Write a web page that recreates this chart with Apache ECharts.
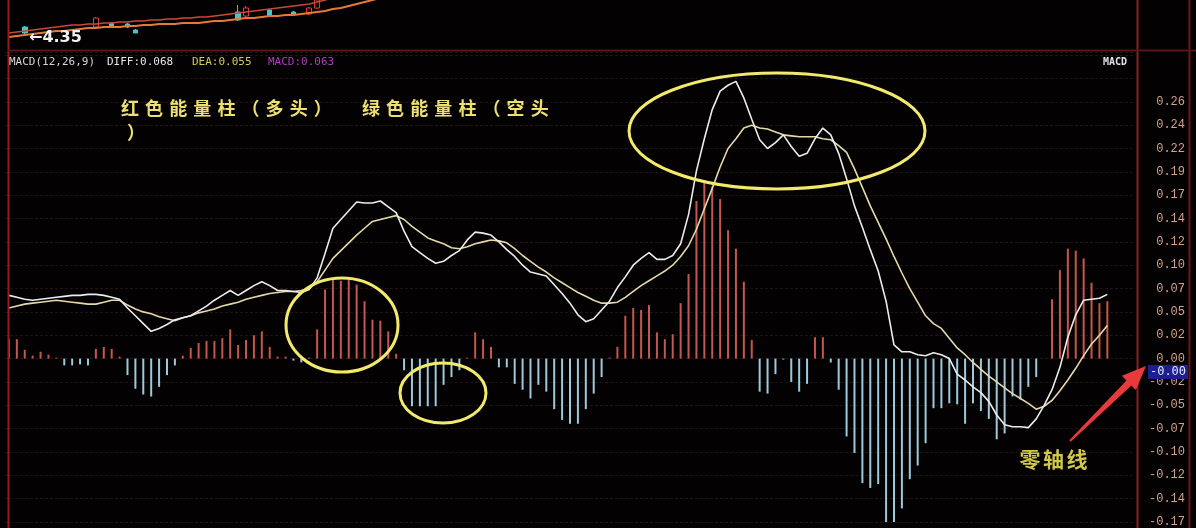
<!DOCTYPE html>
<html><head><meta charset="utf-8">
<script src="https://cdn.jsdelivr.net/npm/echarts@6/dist/echarts.min.js"></script>
<style>html,body{margin:0;padding:0;background:#040102;}#c{width:1196px;height:528px;}</style>
</head><body><div id="c"></div>
<script>
// ---------- data ----------
const macdBars = [
0.020,0.020,0.009,0.003,0.007,0.004,0.001,-0.007,-0.007,-0.006,
-0.007,0.010,0.012,0.010,0.002,-0.017,-0.031,-0.037,-0.039,-0.029,
-0.017,-0.007,0.003,0.011,0.016,0.018,0.018,0.021,0.030,0.014,
0.019,0.024,0.028,0.012,0.002,0.002,-0.002,-0.004,0.001,0.030,
0.071,0.081,0.080,0.081,0.076,0.059,0.040,0.039,0.028,0.005,
-0.012,-0.049,-0.049,-0.049,-0.049,-0.027,-0.019,-0.012,0.001,0.027,
0.020,0.012,-0.009,-0.009,-0.026,-0.032,-0.041,-0.027,-0.034,-0.052,
-0.063,-0.067,-0.067,-0.052,-0.036,-0.019,0.001,0.012,0.044,0.052,
0.050,0.055,0.027,0.020,0.025,0.057,0.087,0.162,0.182,0.177,
0.164,0.132,0.113,0.079,0.019,-0.034,-0.036,-0.016,-0.001,-0.024,
-0.034,-0.026,0.022,0.022,-0.004,-0.032,-0.080,-0.097,-0.128,-0.133,
-0.129,-0.172,-0.172,-0.154,-0.124,-0.110,-0.087,-0.051,-0.051,-0.046,
-0.047,-0.067,-0.046,-0.054,-0.062,-0.083,-0.077,-0.039,-0.042,-0.029,
-0.019,0.000,0.061,0.091,0.113,0.111,0.103,0.078,0.057,0.059];

const diffLine = [
0.065,0.063,0.061,0.060,0.061,0.062,0.063,0.064,0.065,0.065,
0.066,0.066,0.065,0.063,0.061,0.052,0.044,0.036,0.028,0.031,
0.035,0.040,0.042,0.044,0.049,0.054,0.060,0.065,0.070,0.065,
0.070,0.075,0.079,0.075,0.070,0.070,0.069,0.068,0.071,0.083,
0.108,0.134,0.143,0.152,0.161,0.160,0.160,0.162,0.156,0.150,
0.131,0.115,0.109,0.103,0.098,0.100,0.106,0.111,0.122,0.130,
0.129,0.127,0.120,0.112,0.105,0.096,0.089,0.087,0.085,0.076,
0.067,0.057,0.045,0.038,0.041,0.050,0.059,0.073,0.084,0.096,
0.103,0.109,0.102,0.102,0.106,0.118,0.148,0.193,0.226,0.256,
0.275,0.281,0.285,0.268,0.246,0.225,0.216,0.222,0.230,0.218,
0.208,0.211,0.226,0.237,0.230,0.211,0.185,0.157,0.135,0.112,
0.090,0.059,0.014,0.007,0.007,0.004,0.003,0.006,0.004,0.000,
-0.016,-0.022,-0.029,-0.035,-0.044,-0.058,-0.068,-0.070,-0.070,-0.071,
-0.062,-0.048,-0.032,-0.009,0.022,0.045,0.060,0.061,0.062,0.066];

const deaLine = [
0.052,0.054,0.056,0.057,0.058,0.059,0.060,0.059,0.058,0.057,
0.056,0.056,0.058,0.060,0.060,0.055,0.051,0.048,0.046,0.043,
0.041,0.039,0.042,0.044,0.047,0.049,0.051,0.054,0.056,0.058,
0.061,0.063,0.065,0.067,0.068,0.069,0.069,0.070,0.072,0.079,
0.091,0.103,0.111,0.119,0.127,0.134,0.141,0.143,0.145,0.147,
0.143,0.136,0.130,0.124,0.121,0.118,0.114,0.113,0.115,0.118,
0.120,0.122,0.121,0.119,0.113,0.106,0.100,0.094,0.089,0.083,
0.078,0.073,0.068,0.064,0.060,0.057,0.057,0.058,0.063,0.069,
0.075,0.080,0.085,0.090,0.096,0.105,0.116,0.133,0.154,0.175,
0.197,0.216,0.226,0.237,0.240,0.237,0.236,0.233,0.230,0.229,
0.228,0.228,0.228,0.226,0.225,0.219,0.212,0.195,0.176,0.157,
0.140,0.123,0.105,0.088,0.072,0.058,0.044,0.036,0.031,0.021,
0.011,0.004,-0.004,-0.011,-0.018,-0.024,-0.030,-0.036,-0.041,-0.046,
-0.052,-0.049,-0.043,-0.033,-0.022,-0.010,0.003,0.015,0.024,0.034];

const yTickLabels = ['-0.17','-0.14','-0.12','-0.10','-0.07','-0.05','-0.02','0.00','0.02','0.05',
  '0.07','0.10','0.12','0.14','0.17','0.19','0.22','0.24','0.26'];

// price strip (top, partly visible)
const priceMA1 = [4.43,4.44,4.45,4.46,4.47,4.48,4.49,4.49,4.50,4.51,4.52,4.52,4.53,4.53,4.53,4.54,
  4.54,4.55,4.55,4.56,4.56,4.56,4.57,4.57,4.57,4.58,4.59,4.59,4.60,4.61,4.62,4.62,4.63,4.64,4.64,
  4.65,4.65,4.66,4.67,4.68,4.69,4.71,4.72,4.74,4.76,4.78,4.80,4.82];
const priceMA2 = [4.47,4.48,4.49,4.50,4.51,4.52,4.53,4.54,4.55,4.55,4.56,4.56,4.57,4.57,4.58,4.58,
  4.59,4.59,4.60,4.60,4.61,4.61,4.62,4.62,4.63,4.63,4.64,4.65,4.66,4.67,4.68,4.69,4.70,4.71,4.72,
  4.73,4.74,4.75,4.76,4.78,4.80,4.82];
const candleIdx = [2,11,13,15,16,29,30,33,36,38,39];
const candleOHLC = [[4.53,4.47,4.46,4.54],[4.53,4.62,4.52,4.63],[4.57,4.54,4.53,4.58],[4.56,4.53,4.52,4.57],
  [4.50,4.47,4.47,4.51],[4.68,4.60,4.59,4.75],[4.64,4.72,4.63,4.74],[4.70,4.64,4.63,4.71],
  [4.68,4.66,4.65,4.69],[4.66,4.72,4.65,4.73],[4.72,4.80,4.71,4.82]];

const headerParts = ['MACD(12,26,9)','DIFF:0.068','DEA:0.055','MACD:0.063'];
const noteLine1 = '红色能量柱（多头） 绿色能量柱（空头';
const noteLine2 = '）';
const zeroNote = '零轴线';
const cursorLabel = '-0.00';
const lowPriceLabel = '←4.35';

// ---------- chart ----------
const N_CAT = 143;
const categories = Array.from({length: N_CAT}, (_, i) => String(i + 1));
const Y_MIN = -0.168, Y_STEP = 0.024, Y_MAX = 0.3152;

const candleData = categories.map(() => '-');
candleIdx.forEach((k, j) => { candleData[k] = candleOHLC[j]; });

const G = [];
function line(x1,y1,x2,y2,color,w){G.push({type:'line',z:100,silent:true,shape:{x1,y1,x2,y2},style:{stroke:color,lineWidth:w}});}
function text(t,x,y,fill,font,align,z){G.push({type:'text',z:z||110,silent:true,x:x,y:y,style:{text:t,fill:fill,font:font,align:align||'left',textAlign:align||'left',verticalAlign:'middle',textVerticalAlign:'middle'}});}

// borders
line(8.5,0,8.5,528,'#9a1a1a',2);
line(1137.5,0,1137.5,528,'#8a2020',2);
line(1189.5,0,1189.5,528,'#6a1818',2);
line(8,50.5,1196,50.5,'#5a1414',2);

// header
const hdrX = [9,107,192,268];
const hdrC = ['#d6d6d6','#e6e6e6','#d2cc5c','#b03cc0'];
headerParts.forEach((t,i)=>text(t,hdrX[i],62,hdrC[i],'11px "DejaVu Sans Mono"','left'));
text('MACD',1103,62,'#e0e0e0','bold 10px "DejaVu Sans Mono"','left');

// price low label
text(lowPriceLabel,29,38,'#f2f2f2','bold 16px "DejaVu Sans"','left');

// annotation text (wide-spaced characters)
Array.from(noteLine1).forEach((ch,i)=>{ if(ch!==' ') text(ch,130+i*24.1,108,'#ece070','bold 18px "Noto Sans CJK SC"','center'); });
text(noteLine2,136,132,'#ece070','bold 18px "Noto Sans CJK SC"','center');
Array.from(zeroNote).forEach((ch,i)=>text(ch,1030+i*23.5,459,'#cfc84a','bold 21px "Noto Sans CJK SC"','center'));

// ellipses
function ell(cx,cy,rx,ry){G.push({type:'ellipse',z:105,silent:true,shape:{cx,cy,rx,ry},style:{fill:null,stroke:'#f2ea6c',lineWidth:3}});}
ell(342,325,56,47);
ell(443,393,43,30);
ell(777,131,148,58);

// red arrow
G.push({type:'polygon',z:106,silent:true,shape:{points:[[1070.7,441.7],[1131.4,385.4],[1135.9,390.0],[1146,366],[1121.9,375.8],[1126.4,380.4],[1069.3,440.3]]},style:{fill:'#e83a3a'}});

// cursor value box
G.push({type:'rect',z:107,silent:true,shape:{x:1148,y:365,width:40,height:14},style:{fill:'#1e1e8e'}});
text(cursorLabel,1168,372,'#dfe6ff','12px "DejaVu Sans Mono"','center',108);

const option = {
  backgroundColor:'#040102',
  animation:false,
  grid:[
    {left:5,right:61,top:52,bottom:1.5},
    {left:5,right:61,top:0,height:50}
  ],
  xAxis:[
    {type:'category',gridIndex:0,data:categories,show:false,boundaryGap:true},
    {type:'category',gridIndex:1,data:categories,show:false,boundaryGap:true}
  ],
  yAxis:[
    {type:'value',gridIndex:0,position:'right',min:Y_MIN,max:Y_MAX,interval:Y_STEP,
     axisLine:{show:false},axisTick:{show:false},
     splitLine:{show:true,lineStyle:{color:'#241213',width:1,type:[3,2]}},
     axisLabel:{show:true,align:'right',margin:50,color:'#d2a28a',fontSize:12,fontFamily:'"Liberation Mono", monospace',
       showMaxLabel:false,
       formatter:function(v){const k=Math.round((v-Y_MIN)/Y_STEP); if(Math.abs(v-(Y_MIN+k*Y_STEP))>1e-6) return ''; return yTickLabels[k]||'';}}},
    {type:'value',gridIndex:1,min:4.30,max:4.80,show:false,splitLine:{show:false}}
  ],
  series:[
    {type:'bar',name:'MACD',xAxisIndex:0,yAxisIndex:0,data:macdBars,barWidth:2,
     itemStyle:{color:function(p){return p.value>=0?'#c4584a':'#9ccadc';}}},
    {type:'line',name:'DIFF',xAxisIndex:0,yAxisIndex:0,data:diffLine,symbol:'none',z:5,
     lineStyle:{color:'#ececec',width:1.6}},
    {type:'line',name:'DEA',xAxisIndex:0,yAxisIndex:0,data:deaLine,symbol:'none',z:4,
     lineStyle:{color:'#e4d9ab',width:1.6}},
    {type:'line',name:'MA1',xAxisIndex:1,yAxisIndex:1,data:priceMA1,symbol:'none',clip:true,
     lineStyle:{color:'#e87838',width:2}},
    {type:'line',name:'MA2',xAxisIndex:1,yAxisIndex:1,data:priceMA2,symbol:'none',clip:true,
     lineStyle:{color:'#c8483a',width:1.5}},
    {type:'candlestick',name:'K',xAxisIndex:1,yAxisIndex:1,data:candleData,barWidth:5,clip:true,
     itemStyle:{color:'#040102',color0:'#46c6c6',borderColor:'#e03a3a',borderColor0:'#46c6c6',borderWidth:1}}
  ],
  graphic:{elements:G}
};
const chart = echarts.init(document.getElementById('c'));
chart.setOption(option);
</script></body></html>
